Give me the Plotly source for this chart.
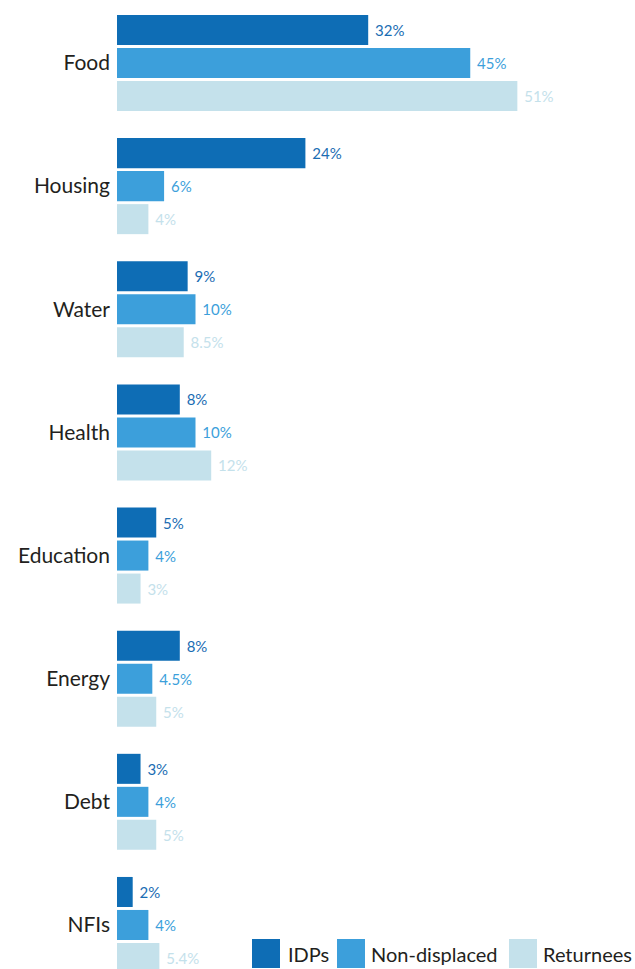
import plotly.graph_objects as go

categories = ['Food', 'Housing', 'Water', 'Health', 'Education', 'Energy', 'Debt', 'NFIs']
series_names = ['IDPs', 'Non-displaced', 'Returnees']
idps = [32, 24, 9, 8, 5, 8, 3, 2]
non_displaced = [45, 6, 10, 10, 4, 4.5, 4, 4]
returnees = [51, 4, 8.5, 12, 3, 5, 5, 5.4]

bar_colors = ['#0e6db5', '#3c9fdb', '#c4e1eb']
label_colors = ['#1a6db3', '#3c9fdb', '#c4e1eb']

W, H = 635, 969
LEFT = 117
FONT = 'Lato, Open Sans, sans-serif'

fig = go.Figure()
for name, vals, bc, lc in zip(series_names, [idps, non_displaced, returnees], bar_colors, label_colors):
    fig.add_trace(go.Bar(
        y=categories,
        x=vals,
        name=name,
        orientation='h',
        marker=dict(color=bc, line=dict(width=0)),
        texttemplate='\u00a0%{x}%',
        textposition='outside',
        cliponaxis=False,
        textfont=dict(color=lc, size=15, family=FONT),
        showlegend=False,
    ))

# legend drawn by hand so the swatches can be large squares
legend_items = [(252, 286), (337, 369), (509, 541)]
shapes = []
annotations = []
for (sx, tx), name, bc in zip(legend_items, series_names, bar_colors):
    shapes.append(dict(
        type='rect', xref='paper', yref='paper',
        x0=(sx - LEFT) / (W - LEFT), x1=(sx + 28 - LEFT) / (W - LEFT),
        y0=1 / H, y1=30 / H,
        fillcolor=bc, line=dict(width=0),
    ))
    annotations.append(dict(
        text=name, xref='paper', yref='paper',
        x=(tx - LEFT) / (W - LEFT), y=15 / H,
        xanchor='left', yanchor='middle', showarrow=False,
        font=dict(size=20, color='#231f20', family=FONT),
    ))

pitch = 123.14
top = -63 / pitch
bottom = top + H / pitch

fig.update_layout(
    width=W,
    height=H,
    margin=dict(l=LEFT, r=0, t=0, b=0),
    barmode='group',
    bargap=0.196,
    bargroupgap=0.09,
    plot_bgcolor='white',
    paper_bgcolor='white',
    font=dict(family=FONT, color='#231f20'),
    xaxis=dict(range=[0, (W - LEFT) / 7.85], visible=False, showgrid=False, zeroline=False),
    yaxis=dict(
        range=[bottom, top],
        showgrid=False, zeroline=False, showline=False, ticks='',
        tickfont=dict(size=21, color='#231f20', family=FONT),
        ticklabelstandoff=6,
    ),
    shapes=shapes,
    annotations=annotations,
)

fig.write_html('out.html', config={'displayModeBar': False},
               post_script="document.body.style.margin='0';")
